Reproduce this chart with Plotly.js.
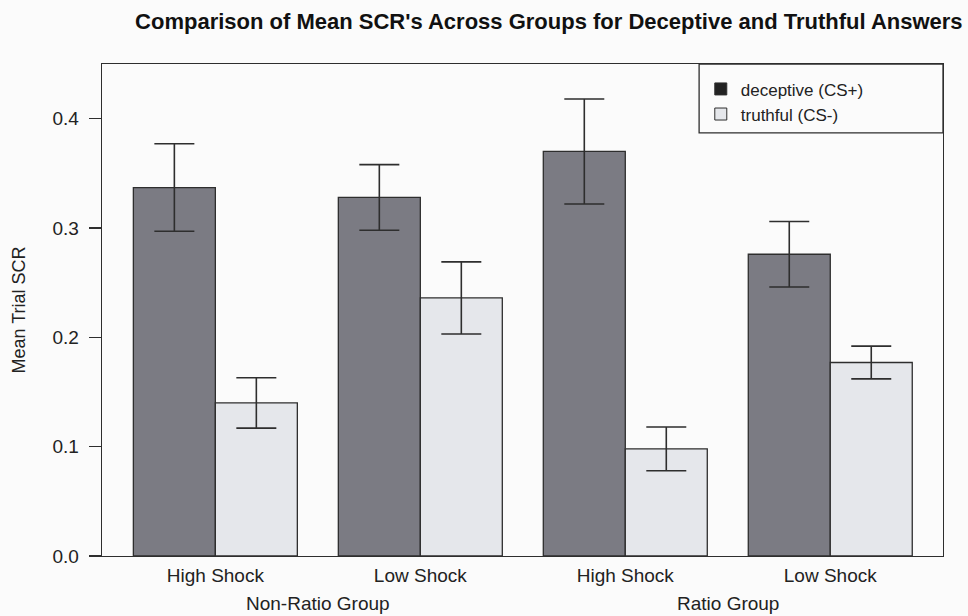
<!DOCTYPE html>
<html>
<head>
<meta charset="utf-8">
<script src="https://cdn.plot.ly/plotly-3.0.1.min.js"></script>
<style>
  html, body { margin: 0; padding: 0; background: #fbfbfb; }
  #chart { width: 968px; height: 616px; }
</style>
</head>
<body>
<div id="chart"></div>
<script>
// Condition positions along the x axis and their labels
const conditionPos = [0, 1, 2, 3];
const conditionLabels = ["High Shock", "Low Shock", "High Shock", "Low Shock"];
const groupLabels = ["Non-Ratio Group", "Ratio Group"];
const groupCenters = [0.5, 2.5];

// Mean trial SCR and standard errors
const deceptiveMean = [0.337, 0.328, 0.370, 0.276];
const deceptiveErr  = [0.040, 0.030, 0.048, 0.030];
const truthfulMean  = [0.140, 0.236, 0.098, 0.177];
const truthfulErr   = [0.023, 0.033, 0.020, 0.015];

const seriesNames = ["deceptive (CS+)", "truthful (CS-)"];

const ink = "#2e2e2e";
const fontFamily = "Liberation Sans, Arial, sans-serif";

function barTrace(y, err, fill, name, group) {
  return {
    type: "bar",
    x: conditionPos,
    y: y,
    name: name,
    offsetgroup: group,
    showlegend: false,
    marker: { color: fill, line: { color: ink, width: 1.3 } },
    error_y: { type: "data", array: err, visible: true, color: ink, thickness: 1.6, width: 20 },
    hoverinfo: "y"
  };
}

// Legend-only entries (darker swatch for the deceptive series)
function legendTrace(fill, name, group) {
  return {
    type: "bar",
    x: [null],
    y: [null],
    name: name,
    offsetgroup: group,
    showlegend: true,
    marker: { color: fill, line: { color: ink, width: 1 } },
    hoverinfo: "skip"
  };
}

const data = [
  barTrace(deceptiveMean, deceptiveErr, "#7b7b83", seriesNames[0], "dec"),
  barTrace(truthfulMean, truthfulErr, "#e5e7eb", seriesNames[1], "tru"),
  legendTrace("#222222", seriesNames[0], "dec"),
  legendTrace("#e5e7eb", seriesNames[1], "tru")
];

const annotations = groupLabels.map((t, i) => ({
  text: t,
  x: groupCenters[i],
  xref: "x",
  y: -0.097,
  yref: "paper",
  xanchor: "center",
  yanchor: "middle",
  showarrow: false,
  font: { family: fontFamily, size: 19, color: "#222" }
}));

const layout = {
  width: 968,
  height: 616,
  margin: { l: 102, r: 25, t: 64, b: 60 },
  paper_bgcolor: "#fbfbfb",
  plot_bgcolor: "#fbfbfb",
  font: { family: fontFamily, size: 19, color: "#222" },
  title: {
    text: "<b>Comparison of Mean SCR's Across Groups for Deceptive and Truthful Answers</b>",
    font: { family: fontFamily, size: 22, color: "#111" },
    x: 0.567,
    xanchor: "center",
    y: 0.965,
    yanchor: "middle"
  },
  barmode: "group",
  bargap: 0.2,
  bargroupgap: 0,
  xaxis: {
    range: [-0.553, 3.55],
    tickvals: conditionPos,
    ticktext: conditionLabels,
    ticks: "",
    ticklabelstandoff: 2,
    showgrid: false,
    zeroline: false,
    showline: true,
    linecolor: ink,
    linewidth: 1.3,
    mirror: true,
    tickfont: { size: 19 }
  },
  yaxis: {
    range: [0, 0.45],
    tickvals: [0, 0.1, 0.2, 0.3, 0.4],
    ticktext: ["0.0", "0.1", "0.2", "0.3", "0.4"],
    ticks: "outside",
    ticklen: 12,
    tickwidth: 1.3,
    tickcolor: ink,
    ticklabelstandoff: 6,
    showgrid: false,
    zeroline: false,
    showline: true,
    linecolor: ink,
    linewidth: 1.3,
    mirror: true,
    tickfont: { size: 19 },
    title: { text: "Mean Trial SCR", font: { size: 18, color: "#222" }, standoff: 22 }
  },
  legend: {
    x: 0.712,
    xanchor: "left",
    y: 0.985,
    yanchor: "top",
    bgcolor: "rgba(0,0,0,0)",
    borderwidth: 0,
    font: { family: fontFamily, size: 17, color: "#222" },
    tracegroupgap: 0
  },
  shapes: [{
    type: "rect",
    xref: "paper", yref: "paper",
    x0: 0.71, x1: 1, y0: 0.86, y1: 1,
    line: { color: ink, width: 1.3 },
    fillcolor: "rgba(0,0,0,0)"
  }],
  annotations: annotations
};

Plotly.newPlot("chart", data, layout, { displayModeBar: false, staticPlot: true });
</script>
</body>
</html>
